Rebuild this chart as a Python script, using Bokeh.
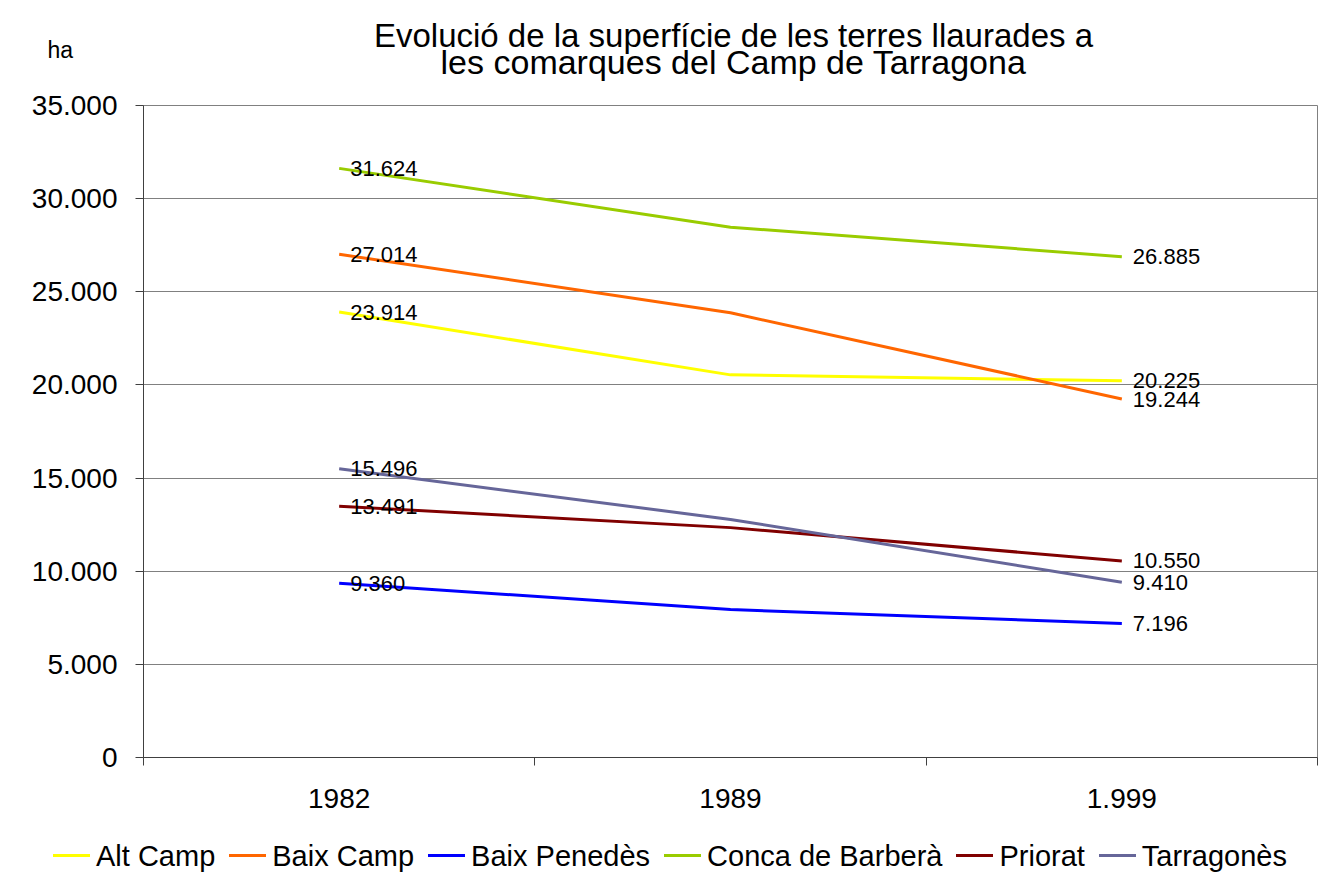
from bokeh.plotting import figure
from bokeh.layouts import column
from bokeh.models import ColumnDataSource, FixedTicker, Label, Range1d, Div
from bokeh.embed import file_html
from bokeh.resources import INLINE
from bokeh.core.properties import value

# ---------------- data ----------------
years = ["1982", "1989", "1.999"]
comarques = ["Alt Camp", "Baix Camp", "Baix Penedès", "Conca de Barberà", "Priorat", "Tarragonès"]
alt_camp = [23914, 20540, 20225]
baix_camp = [27014, 23870, 19244]
baix_penedes = [9360, 7940, 7196]
conca_barbera = [31624, 28470, 26885]
priorat = [13491, 12340, 10550]
tarragones = [15496, 12780, 9410]
series = [alt_camp, baix_camp, baix_penedes, conca_barbera, priorat, tarragones]
colors = ["#FFFF00", "#FF6600", "#0000FF", "#99CC00", "#800000", "#666699"]
y_ticks = [0, 5000, 10000, 15000, 20000, 25000, 30000, 35000]
title_lines = ["Evolució de la superfície de les terres llaurades a",
               "les comarques del Camp de Tarragona"]
unit_label = "ha"

FONT = "Liberation Sans"


def fmt(v):
    return f"{v:,}".replace(",", ".")


xs = [i + 0.5 for i in range(len(years))]

p = figure(width=1320, height=830, output_backend="svg", toolbar_location=None,
           title=None,
           x_range=Range1d(0, len(years)), y_range=Range1d(y_ticks[0], y_ticks[-1]),
           min_border_left=143, min_border_right=3, min_border_top=105, min_border_bottom=73)
p.background_fill_color = "white"
p.border_fill_color = "white"
p.outline_line_color = "#808080"

p.yaxis.ticker = FixedTicker(ticks=y_ticks)
p.yaxis.major_label_overrides = {t: fmt(t) for t in y_ticks}
p.yaxis.major_label_text_font = FONT
p.yaxis.major_label_text_font_size = "28px"
p.yaxis.major_label_text_color = "black"
p.yaxis.major_tick_out = 8
p.yaxis.major_tick_in = 0
p.yaxis.minor_tick_line_color = None
p.yaxis.major_label_standoff = 18
p.yaxis.axis_line_color = "#404040"
p.yaxis.major_tick_line_color = "#404040"

p.xaxis.ticker = FixedTicker(ticks=xs, minor_ticks=list(range(len(years) + 1)))
p.xaxis.major_label_overrides = {x: y for x, y in zip(xs, years)}
p.xaxis.major_label_text_font = FONT
p.xaxis.major_label_text_font_size = "28px"
p.xaxis.major_label_text_color = "black"
p.xaxis.major_tick_line_color = None
p.xaxis.major_tick_out = 0
p.xaxis.major_tick_in = 0
p.xaxis.minor_tick_out = 8
p.xaxis.minor_tick_in = 0
p.xaxis.minor_tick_line_color = "#404040"
p.xaxis.major_label_standoff = 23
p.xaxis.axis_line_color = "#404040"

p.xgrid.visible = False
p.ygrid.grid_line_color = "#808080"
p.ygrid.grid_line_width = 1

for name, vals, col in zip(comarques, series, colors):
    src = ColumnDataSource(dict(x=xs, y=vals))
    p.line("x", "y", source=src, line_width=3, line_color=col)

for name, vals, col in zip(comarques, series, colors):
    idx = [0, len(vals) - 1]
    lsrc = ColumnDataSource(dict(x=[xs[i] for i in idx], y=[vals[i] for i in idx],
                                 t=[fmt(vals[i]) for i in idx]))
    p.text("x", "y", text="t", source=lsrc, x_offset=11, text_align="left",
           text_baseline="middle", text_font=value(FONT), text_font_size="22px",
           text_color="black")

# title lines and unit label in the top side panel (each label stacks its own panel)
p.add_layout(Label(x=590, y=44, x_units="screen", y_units="screen", text=title_lines[1],
                   text_align="center", text_baseline="alphabetic", text_font=FONT,
                   text_font_size="34px", text_color="black"), "above")
p.add_layout(Label(x=590, y=32, x_units="screen", y_units="screen", text=title_lines[0],
                   text_align="center", text_baseline="alphabetic", text_font=FONT,
                   text_font_size="33px", text_color="black"), "above")
p.add_layout(Label(x=-96, y=-19, x_units="screen", y_units="screen", text=unit_label,
                   text_align="left", text_baseline="alphabetic", text_font=FONT,
                   text_font_size="23px", text_color="black"), "above")

# legend row built from the series names and colours
items_html = "".join(
    f'<span style="display:inline-flex;align-items:center;margin-right:14px;">'
    f'<span style="display:inline-block;width:37px;height:0;border-top:3px solid {c};'
    f'margin-right:6px;"></span>{name}</span>'
    for name, c in zip(comarques, colors))
legend_div = Div(
    text=(f'<div style="font-family:\'{FONT}\';font-size:29px;line-height:34px;'
          f'white-space:nowrap;padding-left:53px;color:black;">{items_html}</div>'),
    width=1320, height=40, margin=0)

layout = column(p, legend_div, spacing=0)
open("out.html", "w").write(file_html(layout, INLINE))
